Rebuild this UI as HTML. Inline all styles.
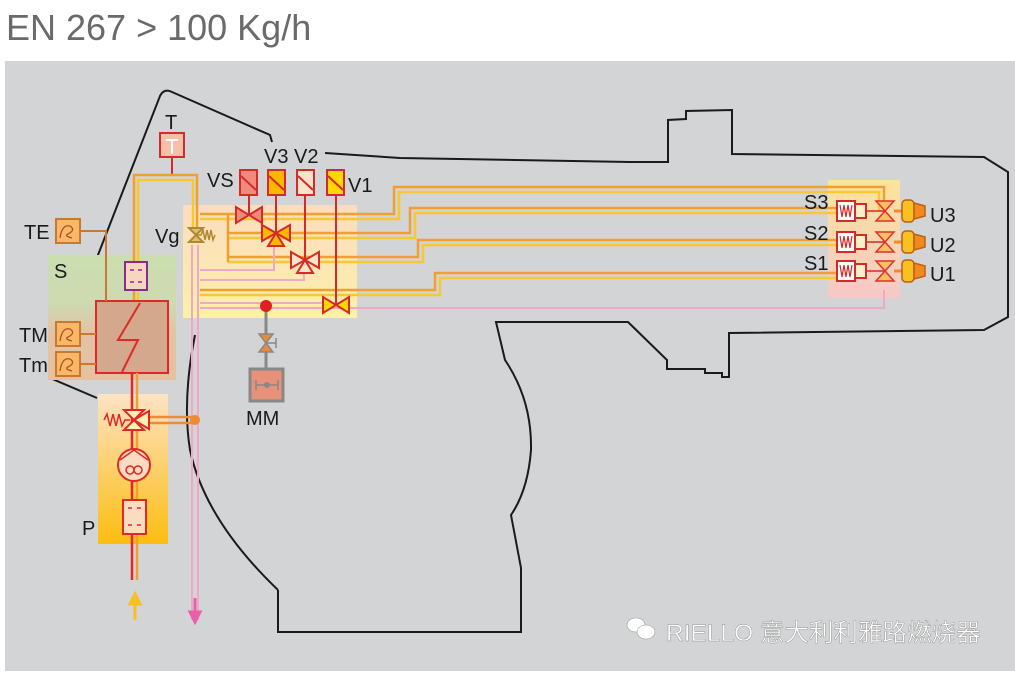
<!DOCTYPE html>
<html><head><meta charset="utf-8"><style>
html,body{margin:0;padding:0;background:#fff;}
svg{display:block;}
text{font-family:"Liberation Sans","Noto Sans CJK SC",sans-serif;}
</style></head><body>
<svg width="1015" height="676" viewBox="0 0 1015 676" xmlns="http://www.w3.org/2000/svg">
<defs>
<linearGradient id="gS" x1="0" y1="0" x2="0" y2="1"><stop offset="0" stop-color="#c9dfb0"/><stop offset="0.4" stop-color="#cfd9b0"/><stop offset="0.6" stop-color="#e2c3a6"/><stop offset="1" stop-color="#e6c0a0"/></linearGradient>
<linearGradient id="gV" x1="0" y1="0" x2="0" y2="1"><stop offset="0" stop-color="#fcdcc0"/><stop offset="1" stop-color="#fdf0a8"/></linearGradient>
<linearGradient id="gP" x1="0" y1="0" x2="0" y2="1"><stop offset="0" stop-color="#fde3c4"/><stop offset="1" stop-color="#fcbd10"/></linearGradient>
<linearGradient id="gR" x1="0" y1="0" x2="0" y2="1"><stop offset="0" stop-color="#fbe49a"/><stop offset="1" stop-color="#f6c8c8"/></linearGradient>
</defs>
<text x="6" y="40" font-size="36" fill="#6a6a6a">EN 267 &gt; 100 Kg/h</text>
<rect x="5" y="61" width="1010" height="610" fill="#d3d4d6"/>

<!-- outline -->
<g fill="none" stroke="#1a1a1a" stroke-width="2">
<path d="M97,398 L50,378 L160,96 Q164,88 172,92 L270,135 L272,142"/>
<path d="M325,153 L400,158 L630,162 L668,162 L668,120 L686,119 L686,111 L732,110 L732,154 L984,157 L1008,172 L1008,317 L984,330 L729,333 L729,377 L722,377 L722,373 L705,373 L705,369 L667,369 L667,360 L628,322 L496,322 L505,360 Q532,400 531,450 Q528,490 511,515 L521,568 L521,632 L278,632 L278,590"/>
<path d="M278,590 Q205,520 190,450 Q182,400 195,335"/>
</g>

<!-- colored regions -->
<rect x="48" y="255" width="128" height="125" fill="url(#gS)"/>
<rect x="183" y="205" width="174" height="113" fill="url(#gV)"/>
<rect x="98" y="394" width="70" height="150" fill="url(#gP)"/>
<rect x="828" y="180" width="72" height="118" fill="url(#gR)"/>

<!-- long pipes -->
<g fill="none" stroke-width="2.5">
<g stroke="#f0a030">
<path d="M200,214 L394,214 L394,187 L884,187 L884,212"/>
<path d="M228,233 L410,233 L410,208 L838,208"/>
<path d="M228,257 L418,257 L418,240 L838,240"/>
<path d="M200,290 L435,290 L435,273 L838,273"/>
</g>
<g stroke="#f8c830">
<path d="M200,219 L399,219 L399,192 L879,192 L879,212"/>
<path d="M228,238 L415,238 L415,213 L838,213"/>
<path d="M228,262 L423,262 L423,245 L838,245"/>
<path d="M200,295 L440,295 L440,278 L838,278"/>
</g>
<path d="M228,214 L228,262" stroke="#f0a030"/>
<g stroke="#f0a8c8" stroke-width="2">
<path d="M200,308 L884,308 L884,290"/>
<path d="M200,303 L344,303"/>
<path d="M200,270 L274,270 L274,245"/>
<path d="M200,280 L304,280 L304,270"/>
<path d="M192,245 L192,620"/>
<path d="M198,245 L198,620"/>
</g>
</g>

<!-- T and loop -->
<rect x="160" y="133" width="24" height="24" fill="#f4c0a8" stroke="#d52a2a" stroke-width="2"/>
<path d="M166,140 H178 M172,140 V154" stroke="#fff" stroke-width="2"/>
<line x1="172" y1="157" x2="172" y2="175" stroke="#d52a2a" stroke-width="2"/>
<path d="M134,301 L134,175 L197,175 L197,228" fill="none" stroke="#f0a030" stroke-width="2.5"/>
<path d="M138,301 L138,180 L193,180 L193,228" fill="none" stroke="#f8c830" stroke-width="2.5"/>

<!-- filter purple -->
<rect x="125" y="262" width="22" height="28" fill="#f6d6c0" stroke="#8a2a8a" stroke-width="2"/>
<path d="M130,270h4M138,270h4M130,282h4M138,282h4" stroke="#8a2a8a" stroke-width="1.5"/>

<!-- exchanger -->
<rect x="96" y="301" width="72" height="72" fill="#d4a88c" stroke="#e02828" stroke-width="2"/>
<path d="M140,303 L118,340 L138,340 L122,372" fill="none" stroke="#e02828" stroke-width="2"/>

<!-- sensors -->
<g stroke="#c87830" stroke-width="2" fill="none">
<path d="M80,231 L106,231 L106,301"/>
<path d="M80,334 L96,334"/><path d="M80,364 L96,364"/>
</g>
<g fill="#f8b868" stroke="#c87830" stroke-width="2">
<rect x="56" y="219" width="24" height="24"/><rect x="56" y="322" width="24" height="24"/><rect x="56" y="352" width="24" height="24"/>
</g>
<g fill="none" stroke="#b05020" stroke-width="1.3">
<path d="M60,238 Q62,224 70,226 Q76,230 68,234 Q64,236 72,238"/>
<path d="M60,341 Q62,327 70,329 Q76,333 68,337 Q64,339 72,341"/>
<path d="M60,371 Q62,357 70,359 Q76,363 68,367 Q64,369 72,371"/>
</g>

<!-- pump column -->
<path d="M132,373 L132,580" stroke="#e02828" stroke-width="2.5"/>
<path d="M137,373 L137,580" stroke="#f0a030" stroke-width="2.5"/>
<path d="M145,417 L195,417 M145,423 L195,423" stroke="#f08a30" stroke-width="2.5"/>
<circle cx="195" cy="420" r="5" fill="#f08a30"/>
<path d="M124,410 L144,410 L134,420 Z M124,430 L144,430 L134,420 Z" fill="#fdf0b0" stroke="#e02828" stroke-width="2"/>
<path d="M134,420 L149,411 L149,429 Z" fill="#fdf0b0" stroke="#e02828" stroke-width="2"/>
<path d="M104,420 l3,-6 l3,12 l3,-12 l3,12 l3,-12 l3,12 l3,-6 h5" fill="none" stroke="#e02828" stroke-width="1.5"/>
<circle cx="134" cy="465" r="16" fill="#fcdcc0" stroke="#e02828" stroke-width="2"/>
<path d="M120,460 L134,450 L148,460" fill="none" stroke="#e02828" stroke-width="1.5"/>
<circle cx="130" cy="470" r="4" fill="none" stroke="#e02828" stroke-width="1.5"/><circle cx="138" cy="470" r="4" fill="none" stroke="#e02828" stroke-width="1.5"/>
<rect x="123" y="500" width="23" height="34" fill="#fcdcc0" stroke="#e02828" stroke-width="2"/>
<path d="M128,508h4M137,508h4M128,525h4M137,525h4" stroke="#e02828" stroke-width="1.5"/>
<path d="M135,620 L135,602 M130,604 L135,594 L140,604 Z" stroke="#f8c020" stroke-width="3" fill="#f8c020"/>
<path d="M195,598 L195,614 M190,612 L195,622 L200,612 Z" stroke="#e860a8" stroke-width="3" fill="#e860a8"/>

<!-- Vg -->
<path d="M189,228 L203,228 L196,235 Z M189,242 L203,242 L196,235 Z" fill="#e0c070" stroke="#b08830" stroke-width="2"/>
<path d="M196,235 h5 l2,-5 l2,10 l2,-10 l2,10 l2,-10 l2,10 l2,-5" fill="none" stroke="#b08830" stroke-width="1.5"/>

<!-- solenoids -->
<g stroke="#d52a2a" stroke-width="2">
<line x1="249" y1="195" x2="249" y2="215"/><line x1="276" y1="195" x2="276" y2="233"/>
<line x1="305" y1="195" x2="305" y2="260"/><line x1="336" y1="195" x2="336" y2="305"/>
<rect x="240" y="170" width="17" height="25" fill="#f08a7a"/>
<rect x="268" y="170" width="17" height="25" fill="#f8b800"/>
<rect x="297" y="170" width="17" height="25" fill="#fde3c8"/>
<rect x="327" y="170" width="17" height="25" fill="#ffd800"/>
<path d="M241,176 L256,190 M269,176 L284,190 M298,176 L313,190 M328,176 L343,190" fill="none"/>
<path d="M236,207 L236,223 L249,215 Z M262,207 L262,223 L249,215 Z" fill="#f08a7a"/>
<path d="M262,225 L262,241 L276,233 Z M290,225 L290,241 L276,233 Z M268,246 L284,246 L276,233 Z" fill="#f8b800"/>
<path d="M291,252 L291,268 L305,260 Z M319,252 L319,268 L305,260 Z M297,273 L313,273 L305,260 Z" fill="#fde3c8"/>
<path d="M323,297 L323,313 L336,305 Z M349,297 L349,313 L336,305 Z" fill="#ffd800"/>
</g>

<!-- MM -->
<line x1="266" y1="306" x2="266" y2="370" stroke="#888" stroke-width="3"/>
<circle cx="266" cy="306" r="6" fill="#e02020"/>
<path d="M259,334 L273,334 L266,343 Z M259,352 L273,352 L266,343 Z" fill="#f08a30" stroke="#888" stroke-width="1.5"/>
<path d="M266,343 h10 M276,338 v10" stroke="#888" stroke-width="1.5"/>
<rect x="250" y="369" width="33" height="32" fill="#e8917a" stroke="#888" stroke-width="3"/>
<path d="M256,385 h22 M256,380 v10 M278,380 v10" stroke="#888" stroke-width="1.5"/><circle cx="267" cy="385" r="3" fill="#888"/>

<!-- right side S/U -->
<g>
<g id="su">
<rect x="837" y="201" width="18" height="20" fill="#fff" stroke="#d52a2a" stroke-width="2"/>
<rect x="855" y="204" width="11" height="14" fill="#fdf0c8" stroke="#d52a2a" stroke-width="2"/>
<path d="M840,205 l2,12 l2,-12 l2,12 l2,-12 l2,12 l2,-12" fill="none" stroke="#d52a2a" stroke-width="1.2"/>
<line x1="866" y1="211" x2="885" y2="211" stroke="#d52a2a" stroke-width="1.5"/>
<path d="M876,201 L894,201 L885,211 Z M876,221 L894,221 L885,211 Z" fill="#f8c060" stroke="#e03030" stroke-width="1.5"/>
<line x1="894" y1="211" x2="902" y2="211" stroke="#f08a30" stroke-width="3"/>
<rect x="902" y="200" width="12" height="22" rx="4" fill="#f8c020" stroke="#c06010" stroke-width="1.5"/>
<path d="M914,203 L925,206 L925,216 L914,219 Z" fill="#f08a20" stroke="#c06010" stroke-width="1.5"/>
</g>
<use href="#su" y="31"/>
<use href="#su" y="60"/>
</g>

<!-- labels -->
<g font-size="20" fill="#1a1a1a">
<text x="165" y="129">T</text>
<text x="264" y="163">V3</text><text x="294" y="163">V2</text>
<text x="207" y="187">VS</text><text x="348" y="192">V1</text>
<text x="155" y="243">Vg</text>
<text x="24" y="239">TE</text>
<text x="54" y="278">S</text>
<text x="19" y="342">TM</text><text x="19" y="372">Tm</text>
<text x="246" y="425">MM</text>
<text x="82" y="535">P</text>
<text x="804" y="209">S3</text><text x="804" y="240">S2</text><text x="804" y="270">S1</text>
<text x="930" y="222">U3</text><text x="930" y="252">U2</text><text x="930" y="281">U1</text>
</g>

<!-- watermark -->
<g fill="#fff" stroke="#999" stroke-width="0.6">
<ellipse cx="636" cy="625" rx="9" ry="7"/><ellipse cx="646" cy="632" rx="9" ry="7"/>
</g>
<text x="666" y="641" font-size="24.5" fill="#fff" stroke="#888" stroke-width="0.4">RIELLO 意大利利雅路燃烧器</text>
</svg>
</body></html>
